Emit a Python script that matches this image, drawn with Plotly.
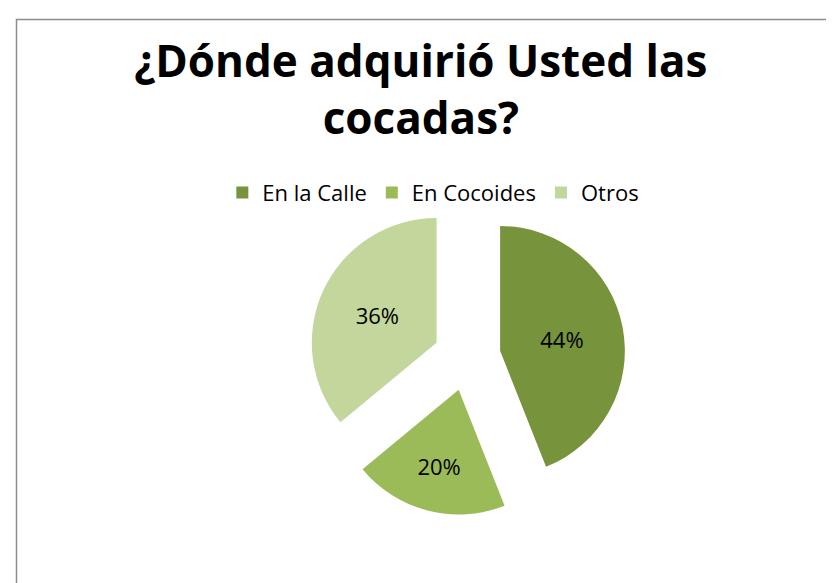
import plotly.graph_objects as go

labels = ["En la Calle", "En Cocoides", "Otros"]
values = [44, 20, 36]
colors = ["#77933C", "#9BBB59", "#C3D69B"]
pulls = [0.27, 0.27, 0.27]

FONT = "Open Sans, Noto Sans, sans-serif"

fig = go.Figure(go.Pie(
    labels=labels,
    values=values,
    marker=dict(colors=colors, line=dict(color="rgba(0,0,0,0)", width=0)),
    pull=pulls,
    sort=False,
    direction="clockwise",
    rotation=0,
    textinfo="percent",
    texttemplate="%{percent:.0%}",
    textposition="inside",
    insidetextorientation="horizontal",
    textfont=dict(size=22, color="#000000", family=FONT),
    domain=dict(x=[0.3604, 0.7404], y=[0.1295, 0.673]),
    hoverinfo="label+percent",
))

fig.update_layout(
    width=834, height=583,
    margin=dict(l=0, r=0, t=0, b=0),
    paper_bgcolor="white",
    plot_bgcolor="white",
    title=dict(
        text="<b>¿Dónde adquirió Usted las<br>cocadas?</b>",
        x=0.495, xanchor="center",
        y=0.882, yanchor="top",
        font=dict(size=44, color="#000000", family=FONT),
    ),
    legend=dict(
        orientation="h",
        x=0.51, xanchor="center",
        y=0.683, yanchor="middle",
        font=dict(size=22, color="#000000", family=FONT),
        itemsizing="constant",
    ),
    shapes=[dict(
        type="rect", xref="paper", yref="paper",
        x0=8.5/834, x1=1.05, y0=-0.05, y1=1 - 11.5/583,
        line=dict(color="#8C8C8C", width=1.5),
    )],
)

fig.write_html("out.html")
